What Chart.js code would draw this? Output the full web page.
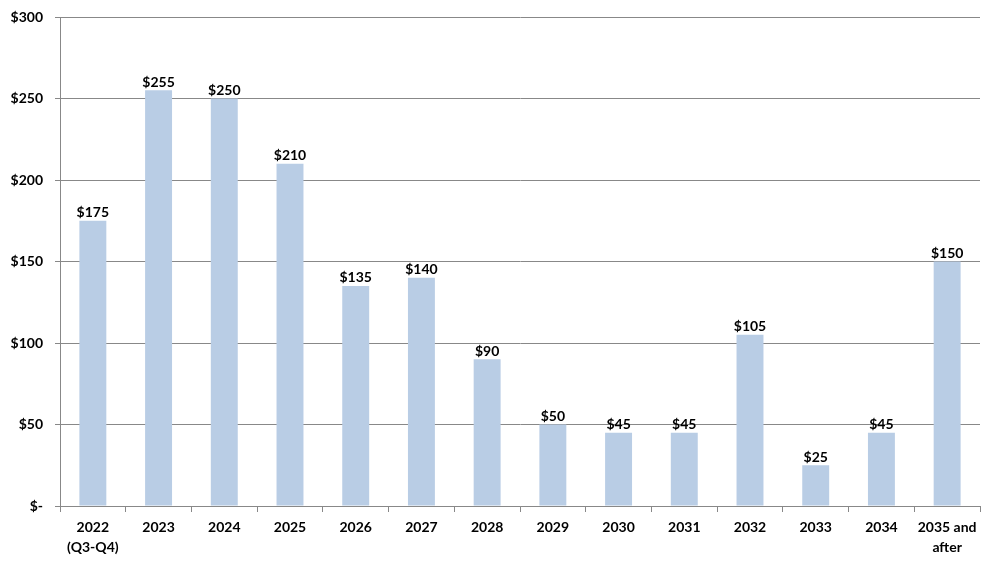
<!DOCTYPE html>
<html><head><meta charset="utf-8">
<script src="https://cdn.jsdelivr.net/npm/chart.js@4/dist/chart.umd.min.js"></script>
<style>html,body{margin:0;padding:0;background:#fff}#wrap{width:996px;height:563px}</style>
</head><body><div id="wrap"><canvas id="c" width="996" height="563"></canvas></div>
<script>
const categories = [["2022","(Q3-Q4)"],"2023","2024","2025","2026","2027","2028","2029","2030","2031","2032","2033","2034",["2035 and","after"]];
const values = [175,255,250,210,135,140,90,50,45,45,105,25,45,150];
const yTicks = [0,50,100,150,200,250,300];
const FONT = "Lato, 'Open Sans', sans-serif";

const labelPlugin = {
  id:'barLabels',
  afterDatasetsDraw(chart){
    const ctx = chart.ctx;
    const meta = chart.getDatasetMeta(0);
    ctx.save();
    ctx.font = "bold 14px " + FONT;
    ctx.fillStyle = '#000';
    ctx.textAlign = 'center';
    ctx.textBaseline = 'bottom';
    meta.data.forEach((bar,i)=>{
      ctx.fillText('$'+values[i], bar.x, bar.y - 1);
    });
    ctx.restore();
  }
};

new Chart(document.getElementById('c'), {
  type:'bar',
  data:{labels:categories, datasets:[{data:values, backgroundColor:'#B9CDE5', borderWidth:0, barPercentage:0.41, categoryPercentage:1.0}]},
  options:{
    responsive:false, animation:false,
    layout:{padding:{top:17,right:16,left:0,bottom:0}},
    plugins:{legend:{display:false}, tooltip:{enabled:false}},
    scales:{
      x:{
        grid:{display:true, drawOnChartArea:false, drawTicks:true, tickLength:6, color:'#888', offset:true},
        border:{color:'#888', width:1},
        ticks:{font:{family:FONT, size:14, weight:'bold', lineHeight:1.45}, color:'#000', padding:5, maxRotation:0, autoSkip:false},
        afterFit(s){ s.height = 57; }
      },
      y:{
        min:0, max:300,
        afterBuildTicks(s){ s.ticks = yTicks.map(v=>({value:v})); },
        grid:{color:'#888', lineWidth:1, tickLength:5},
        border:{color:'#888', width:1},
        ticks:{font:{family:FONT, size:14, weight:'bold', lineHeight:1.0}, color:'#000', padding:12,
          callback:(v)=> v===0 ? '$-' : '$'+v},
        afterFit(s){ s.width = 60; s.paddingTop = 0; }
      }
    }
  },
  plugins:[labelPlugin]
});
</script></body></html>
